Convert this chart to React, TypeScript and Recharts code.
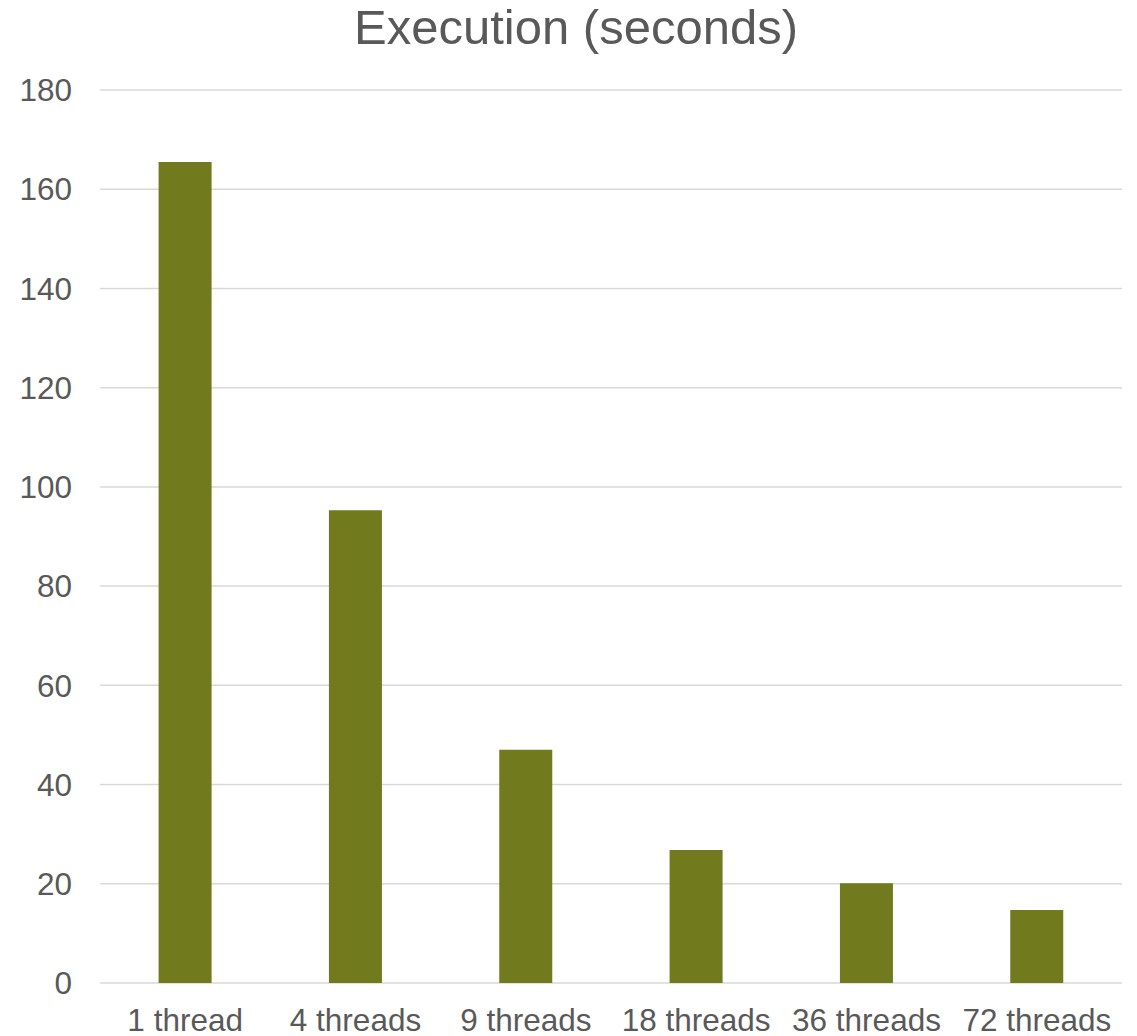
import { Bar, BarChart, CartesianGrid, XAxis, YAxis } from "recharts";

const threads = ["1 thread", "4 threads", "9 threads", "18 threads", "36 threads", "72 threads"];
const seconds = [165.5, 95.3, 47.0, 26.8, 20.1, 14.7];
const yTicks = [0, 20, 40, 60, 80, 100, 120, 140, 160, 180];

const data = threads.map((name, i) => ({ name, seconds: seconds[i] }));

const axisText = { fill: "#595959", fontSize: 31.5, fontFamily: "'Liberation Sans', Arial, sans-serif" };

export default function App() {
  return (
    <div style={{ position: "absolute", left: 0, top: 0, width: 1137, height: 1036, background: "#fff" }}>
      <BarChart
        width={1137}
        height={1036}
        data={data}
        margin={{ top: 90, right: 15, bottom: 0, left: 0 }}
        barCategoryGap="34.4%"
      >
        <text
          x={576}
          y={44}
          textAnchor="middle"
          fill="#595959"
          fontSize={49}
          fontFamily="'Liberation Sans', Arial, sans-serif"
        >
          Execution (seconds)
        </text>
        <CartesianGrid vertical={false} stroke="#d9d9d9" strokeWidth={1.5} />
        <XAxis
          dataKey="name"
          height={53}
          axisLine={false}
          tickLine={false}
          tickSize={0}
          tickMargin={26}
          tick={axisText}
          interval={0}
        />
        <YAxis
          width={100}
          domain={[0, 180]}
          ticks={yTicks}
          axisLine={false}
          tickLine={false}
          tickSize={0}
          tickMargin={28}
          tick={axisText}
        />
        <Bar dataKey="seconds" fill="#727a1e" isAnimationActive={false} />
      </BarChart>
    </div>
  );
}
